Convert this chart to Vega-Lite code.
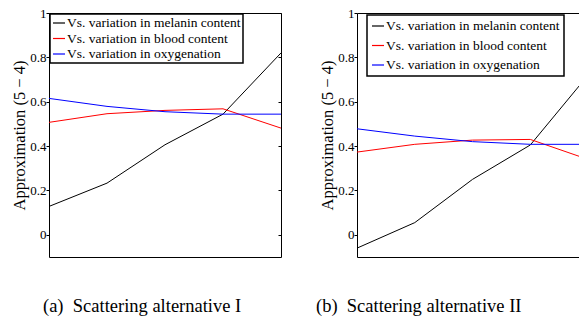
{
  "$schema": "https://vega.github.io/schema/vega-lite/v6.json",
  "background": "white",
  "padding": {"left": 11, "top": 7, "right": 0, "bottom": 4},
  "config": {
    "font": "Liberation Serif, Times New Roman, serif",
    "view": {"stroke": null},
    "axis": {
      "labelFont": "Liberation Serif, Times New Roman, serif",
      "labelFontSize": 13,
      "labelColor": "black",
      "titleFont": "Liberation Serif, Times New Roman, serif",
      "titleFontSize": 16.5,
      "titleFontWeight": "normal",
      "titleColor": "black",
      "grid": false,
      "domain": true,
      "domainColor": "black",
      "domainWidth": 1,
      "tickColor": "black",
      "tickSize": 3,
      "labelPadding": 0
    },
    "legend": {
      "labelFont": "Liberation Serif, Times New Roman, serif",
      "labelFontSize": 13.5,
      "labelColor": "black",
      "labelLimit": 400,
      "symbolType": "stroke",
      "symbolSize": 144,
      "symbolStrokeWidth": 1.2,
      "strokeColor": "black",
      "fillColor": "white",
      "labelOffset": 1
    },
    "title": {
      "font": "Liberation Serif, Times New Roman, serif",
      "fontSize": 18.5,
      "fontWeight": "normal",
      "color": "black"
    }
  },
  "datasets": {
    "alt1": [
      {"x": 1, "series": "Vs. variation in melanin content", "value": 0.128},
      {"x": 2, "series": "Vs. variation in melanin content", "value": 0.233},
      {"x": 3, "series": "Vs. variation in melanin content", "value": 0.406},
      {"x": 4, "series": "Vs. variation in melanin content", "value": 0.544},
      {"x": 5, "series": "Vs. variation in melanin content", "value": 0.82},
      {"x": 1, "series": "Vs. variation in blood content", "value": 0.507},
      {"x": 2, "series": "Vs. variation in blood content", "value": 0.546},
      {"x": 3, "series": "Vs. variation in blood content", "value": 0.561},
      {"x": 4, "series": "Vs. variation in blood content", "value": 0.568},
      {"x": 5, "series": "Vs. variation in blood content", "value": 0.481},
      {"x": 1, "series": "Vs. variation in oxygenation", "value": 0.615},
      {"x": 2, "series": "Vs. variation in oxygenation", "value": 0.579},
      {"x": 3, "series": "Vs. variation in oxygenation", "value": 0.555},
      {"x": 4, "series": "Vs. variation in oxygenation", "value": 0.544},
      {"x": 5, "series": "Vs. variation in oxygenation", "value": 0.544}
    ],
    "alt2": [
      {"x": 1, "series": "Vs. variation in melanin content", "value": -0.06},
      {"x": 2, "series": "Vs. variation in melanin content", "value": 0.055},
      {"x": 3, "series": "Vs. variation in melanin content", "value": 0.25},
      {"x": 4, "series": "Vs. variation in melanin content", "value": 0.405},
      {"x": 5, "series": "Vs. variation in melanin content", "value": 0.72},
      {"x": 1, "series": "Vs. variation in blood content", "value": 0.373},
      {"x": 2, "series": "Vs. variation in blood content", "value": 0.408},
      {"x": 3, "series": "Vs. variation in blood content", "value": 0.427},
      {"x": 4, "series": "Vs. variation in blood content", "value": 0.43},
      {"x": 5, "series": "Vs. variation in blood content", "value": 0.34},
      {"x": 1, "series": "Vs. variation in oxygenation", "value": 0.478},
      {"x": 2, "series": "Vs. variation in oxygenation", "value": 0.445},
      {"x": 3, "series": "Vs. variation in oxygenation", "value": 0.42},
      {"x": 4, "series": "Vs. variation in oxygenation", "value": 0.408},
      {"x": 5, "series": "Vs. variation in oxygenation", "value": 0.408}
    ]
  },
  "bounds": "flush",
  "spacing": 76,
  "resolve": {"scale": {"color": "independent"}, "legend": {"color": "independent"}},
  "hconcat": [
    {
      "width": 232,
      "height": 244,
      "data": {"name": "alt1"},
      "title": {
        "text": "(a)\u00a0 Scattering alternative I",
        "orient": "bottom",
        "anchor": "start",
        "frame": "group",
        "baseline": "alphabetic",
        "dx": -6,
        "offset": 55
      },
      "resolve": {"axis": {"x": "independent", "y": "independent"}},
      "layer": [
        {
          "mark": {"type": "point", "opacity": 0},
          "encoding": {
            "x": {
              "field": "x", "type": "quantitative",
              "axis": {"orient": "top", "title": null, "labels": false, "ticks": false}
            },
            "y": {
              "field": "value", "type": "quantitative",
              "axis": {"orient": "right", "title": null, "labels": false, "values": [0, 0.2, 0.4, 0.6, 0.8, 1], "tickSize": -3}
            }
          }
        },
        {
          "mark": {"type": "line", "strokeWidth": 1, "clip": true},
          "encoding": {
            "x": {
              "field": "x", "type": "quantitative",
              "scale": {"domain": [1, 5], "nice": false, "zero": false},
              "axis": {"orient": "bottom", "title": null, "labels": false, "ticks": false}
            },
            "y": {
              "field": "value", "type": "quantitative",
              "scale": {"domain": [-0.1, 1], "nice": false, "zero": false},
              "axis": {"orient": "left", "title": "Approximation (5 − 4)", "values": [0, 0.2, 0.4, 0.6, 0.8, 1], "format": "~g", "titlePadding": 2}
            },
            "color": {
              "field": "series", "type": "nominal",
              "scale": {
                "domain": ["Vs. variation in melanin content", "Vs. variation in blood content", "Vs. variation in oxygenation"],
                "range": ["black", "red", "blue"]
              },
              "legend": {
                "title": null, "orient": "none", "legendX": 1, "legendY": 1,
                "padding": 2, "rowPadding": 1.5,
                "encode": {"legend": {"update": {"strokeWidth": {"value": 1.5}}}}
              }
            }
          }
        }
      ]
    },
    {
      "width": 223,
      "height": 244,
      "data": {"name": "alt2"},
      "title": {
        "text": "(b)\u00a0 Scattering alternative II",
        "orient": "bottom",
        "anchor": "start",
        "frame": "group",
        "baseline": "alphabetic",
        "dx": -41,
        "offset": 55
      },
      "resolve": {"axis": {"x": "independent"}},
      "layer": [
        {
          "mark": {"type": "point", "opacity": 0},
          "encoding": {
            "x": {
              "field": "x", "type": "quantitative",
              "axis": {"orient": "top", "title": null, "labels": false, "ticks": false}
            },
            "y": {"field": "value", "type": "quantitative"}
          }
        },
        {
          "mark": {"type": "line", "strokeWidth": 1, "clip": true},
          "encoding": {
            "x": {
              "field": "x", "type": "quantitative",
              "scale": {"domain": [1, 4.86], "nice": false, "zero": false},
              "axis": {"orient": "bottom", "title": null, "labels": false, "ticks": false}
            },
            "y": {
              "field": "value", "type": "quantitative",
              "scale": {"domain": [-0.1, 1], "nice": false, "zero": false},
              "axis": {"title": "Approximation (5 − 4)", "values": [0, 0.2, 0.4, 0.6, 0.8, 1], "format": "~g", "titlePadding": 2}
            },
            "color": {
              "field": "series", "type": "nominal",
              "scale": {
                "domain": ["Vs. variation in melanin content", "Vs. variation in blood content", "Vs. variation in oxygenation"],
                "range": ["black", "red", "blue"]
              },
              "legend": {
                "title": null, "orient": "none", "legendX": 10, "legendY": 2,
                "padding": 4, "rowPadding": 5.5,
                "encode": {"legend": {"update": {"strokeWidth": {"value": 1.5}}}}
              }
            }
          }
        }
      ]
    }
  ]
}
